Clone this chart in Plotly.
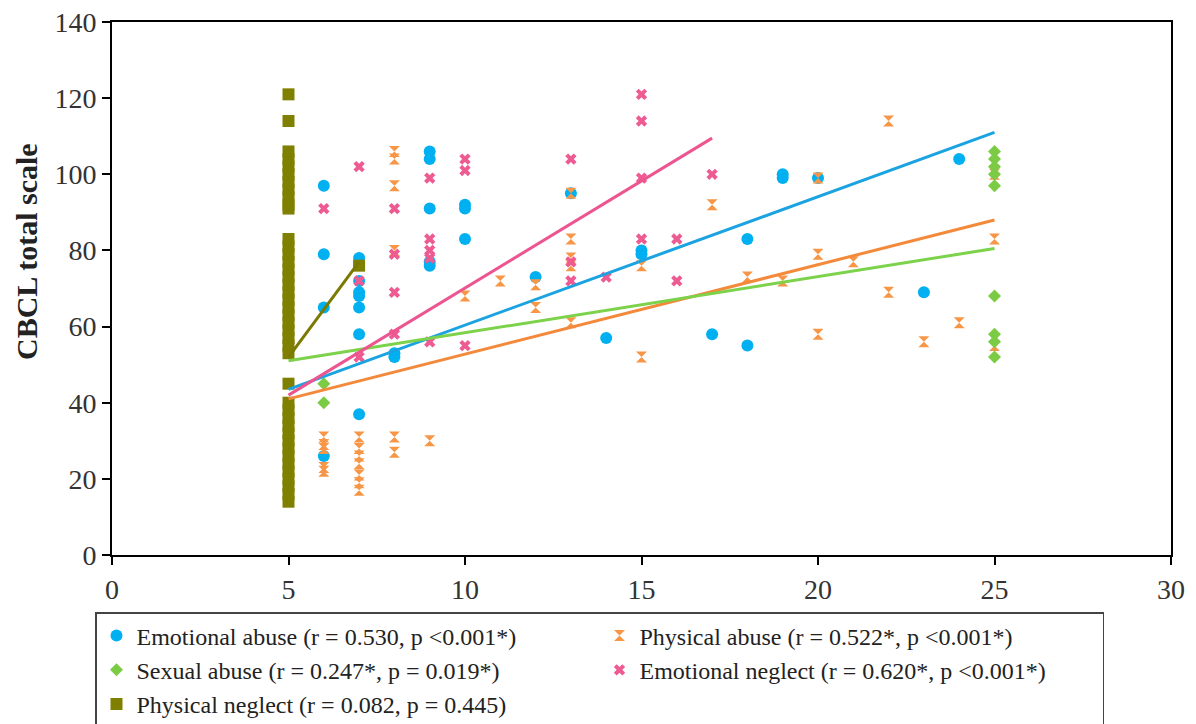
import plotly.graph_objects as go

# ---------------- data ----------------
ea_x = [6, 6, 6, 6, 7, 7, 7, 7, 7, 7, 7, 8, 8, 9, 9, 9, 9, 9, 10, 10, 10, 12, 13, 14, 15, 15, 17, 18, 18, 19, 19, 20, 23, 24]
ea_y = [97, 79, 65, 26, 78, 72, 69, 68, 65, 58, 37, 52, 53, 106, 104, 91, 77, 76, 92, 91, 83, 73, 95, 57, 80, 79, 58, 83, 55, 100, 99, 99, 69, 104]

pa_x = [6, 6, 6, 6, 6, 7, 7, 7, 7, 7, 7, 7, 8, 8, 8, 8, 8, 8, 9, 10, 11, 12, 12, 13, 13, 13, 13, 13,
        15, 15, 17, 18, 19, 20, 20, 20, 21, 22, 22, 23, 24, 25, 25, 25, 25]
pa_y = [31, 29, 28, 23, 22, 31, 28, 26, 24, 21, 19, 17, 106, 104, 97, 80, 31, 27, 30, 68, 72, 71, 65, 95, 83, 78, 76, 61,
        76, 52, 92, 73, 72, 99, 79, 58, 77, 114, 69, 56, 61, 101, 100, 83, 55]

sa_x = [6, 6, 25, 25, 25, 25, 25, 25, 25, 25, 25]
sa_y = [45, 40, 106, 104, 102, 100, 97, 68, 58, 56, 52]

en_x = [6, 7, 7, 7, 8, 8, 8, 8, 9, 9, 9, 9, 9, 10, 10, 10, 13, 13, 13, 14, 15, 15, 15, 15, 16, 16, 17]
en_y = [91, 102, 72, 52, 91, 79, 69, 58, 99, 83, 80, 78, 56, 104, 101, 55, 104, 77, 72, 73, 121, 114, 99, 83, 83, 72, 100]

pn_x = [5, 5,
        5, 5, 5, 5, 5, 5, 5, 5, 5,
        5, 5, 5, 5, 5, 5, 5, 5, 5, 5, 5, 5, 5, 5, 5, 5,
        5,
        5, 5, 5, 5, 5, 5, 5, 5, 5, 5, 5, 5, 5, 5,
        7]
pn_y = [121, 114,
        106, 104, 102, 100, 98, 96, 94, 92, 91,
        83, 81, 79, 77, 75, 73, 71, 69, 67, 65, 63, 61, 59, 57, 55, 53,
        45,
        40, 38, 36, 34, 32, 30, 28, 26, 24, 22, 20, 18, 16, 14,
        76]

# linear trend lines (end points)
fit_ea_x, fit_ea_y = [5, 25], [43.5, 111]
fit_pa_x, fit_pa_y = [5, 25], [41, 88]
fit_sa_x, fit_sa_y = [5, 25], [51, 80.5]
fit_en_x, fit_en_y = [5, 17], [42, 109.5]
fit_pn_x, fit_pn_y = [5, 7], [52, 77]

names = [
    "Emotional abuse (r = 0.530, p <0.001*)",
    "Physical abuse (r = 0.522*, p <0.001*)",
    "Sexual abuse (r = 0.247*, p = 0.019*)",
    "Emotional neglect (r = 0.620*, p <0.001*)",
    "Physical neglect (r = 0.082, p = 0.445)",
]
y_title = "CBCL total scale"

x_ticks = [0, 5, 10, 15, 20, 25, 30]
y_ticks = [0, 20, 40, 60, 80, 100, 120, 140]

# ---------------- styling ----------------
C_EA, C_PA, C_SA, C_EN, C_PN = "#00B0F0", "#F79646", "#7CCB45", "#EE5A92", "#808000"
L_EA, L_PA, L_SA, L_EN, L_PN = "#1AA3E0", "#F3893A", "#7DD24B", "#EC5590", "#7A7A00"
FONT = "Liberation Serif, Times New Roman, serif"

# page has an 8px body margin; the figure is sized to fit inside the window
W, H, OFF = 1188, 716, 8

fig = go.Figure()

fig.add_trace(go.Scatter(x=ea_x, y=ea_y, mode="markers", name=names[0],
                         marker=dict(symbol="circle", size=12, color=C_EA)))
fig.add_trace(go.Scatter(x=pa_x, y=pa_y, mode="markers", name=names[1],
                         marker=dict(symbol="hourglass", size=11, color=C_PA)))
fig.add_trace(go.Scatter(x=sa_x, y=sa_y, mode="markers", name=names[2],
                         marker=dict(symbol="diamond", size=10, color=C_SA)))
fig.add_trace(go.Scatter(x=en_x, y=en_y, mode="markers", name=names[3],
                         marker=dict(symbol="x", size=10, color=C_EN)))
fig.add_trace(go.Scatter(x=pn_x, y=pn_y, mode="markers", name=names[4],
                         marker=dict(symbol="square", size=12, color=C_PN)))

for fx, fy, c in [(fit_ea_x, fit_ea_y, L_EA), (fit_pa_x, fit_pa_y, L_PA),
                  (fit_sa_x, fit_sa_y, L_SA), (fit_en_x, fit_en_y, L_EN),
                  (fit_pn_x, fit_pn_y, L_PN)]:
    fig.add_trace(go.Scatter(x=fx, y=fy, mode="lines", showlegend=False,
                             line=dict(color=c, width=3), hoverinfo="skip"))

plot_l, plot_r, plot_t, plot_b = 112, 1171, 22, 555   # page pixels
fig.update_layout(
    width=W, height=H,
    margin=dict(l=plot_l - OFF, r=OFF + W - plot_r, t=plot_t - OFF, b=OFF + H - plot_b),
    paper_bgcolor="white", plot_bgcolor="white",
    font=dict(family=FONT, size=24, color="#222222"),
    showlegend=True,
    legend=dict(
        orientation="h",
        xref="container", yref="container",
        x=(95 - OFF) / W, y=1 - (612 - OFF) / H, xanchor="left", yanchor="top",
        entrywidthmode="pixels", entrywidth=458,
        bordercolor="#444444", borderwidth=1.5,
        bgcolor="white",
        font=dict(family=FONT, size=24, color="#222222"),
        itemwidth=30,
        tracegroupgap=0,
    ),
    annotations=[dict(
        text="<b>" + y_title + "</b>", textangle=-90,
        xref="paper", yref="paper",
        x=(27 - plot_l) / (plot_r - plot_l), y=(plot_b - 252) / (plot_b - plot_t),
        xanchor="center", yanchor="middle", showarrow=False,
        font=dict(family=FONT, size=30, color="#222222"),
    )],
)

fig.update_xaxes(
    range=[0, 30], tickvals=x_ticks, ticktext=[str(v) for v in x_ticks],
    showline=True, linecolor="black", linewidth=2, mirror=True,
    ticks="outside", ticklen=8, tickwidth=2, tickcolor="black",
    showgrid=False, zeroline=False, automargin=False, ticklabeloverflow="allow",
    tickfont=dict(family=FONT, size=28, color="#333333"),
)
fig.update_yaxes(
    range=[0, 140], tickvals=y_ticks, ticktext=[str(v) for v in y_ticks],
    showline=True, linecolor="black", linewidth=2, mirror=True,
    ticks="outside", ticklen=8, tickwidth=2, tickcolor="black",
    showgrid=False, zeroline=False, automargin=False, ticklabeloverflow="allow",
    tickfont=dict(family=FONT, size=28, color="#333333"),
)

fig.write_html("out.html")
